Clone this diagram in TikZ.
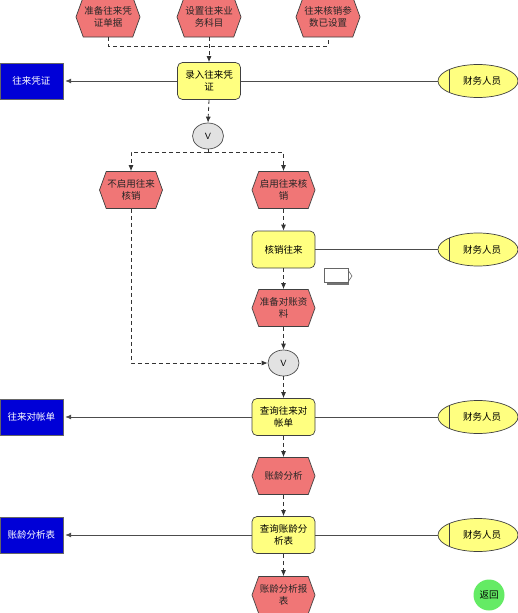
\documentclass[tikz,border=0pt]{standalone}
\usepackage{fontspec}
\newfontfamily\cjk{Noto Sans CJK SC}
\usetikzlibrary{shapes.symbols,shapes.geometric,arrows.meta}
\definecolor{evred}{RGB}{240,118,118}
\definecolor{fnyel}{RGB}{255,255,128}
\definecolor{orblue}{RGB}{0,0,215}
\definecolor{xgray}{RGB}{226,226,226}
\definecolor{retgreen}{RGB}{100,235,100}
\begin{document}
\begin{tikzpicture}[x=1pt,y=-1pt,
  txt/.style={font=\cjk\fontsize{9.5}{12}\selectfont, align=center},
  ev/.style={txt, shape=signal, signal to=west and east, signal pointer angle=140,
    draw=black!75, line width=0.7pt, fill=evred, minimum width=63pt, minimum height=37pt, inner sep=1pt, text=black!85},
  fn/.style={txt, rectangle, rounded corners=5pt, draw=black!75, line width=0.7pt, fill=fnyel,
    minimum width=63pt, minimum height=37pt, inner sep=1pt},
  org/.style={txt, rectangle, draw=black!60, fill=orblue, text=white, minimum width=63pt, minimum height=36pt, inner sep=1pt},
  actor/.style={txt, ellipse, draw=black!75, line width=0.7pt, fill=fnyel, minimum width=80pt, minimum height=33pt, inner sep=0pt,
    path picture={\draw[black!75, line width=0.8pt] ([xshift=11pt]path picture bounding box.south west) -- ([xshift=11pt]path picture bounding box.north west);}},
  xorc/.style={ellipse, draw=black!70, line width=0.7pt, fill=xgray, minimum width=31pt, minimum height=26pt, inner sep=0pt, font=\sffamily\small},
  ret/.style={txt, circle, fill=retgreen, minimum size=31pt, inner sep=0pt},
  dl/.style={dashed, dash pattern=on 4pt off 3pt, black!80, line width=0.8pt},
  dla/.style={dl, -{Latex[length=6pt,width=5pt]}},
  ln/.style={black!70, line width=0.8pt},
  lna/.style={ln, -{Latex[length=6pt,width=5pt]}, shorten >=2pt}
]
\useasboundingbox (0,0) rectangle (518,613);

\node[ev, minimum height=40pt] (e1) at (108,17) {准备往来凭\\证单据};
\node[ev, minimum height=40pt] (e2) at (209,17) {设置往来业\\务科目};
\node[ev, minimum height=40pt] (e3) at (328,17) {往来核销参\\数已设置};
\node[fn] (f1) at (209,81) {录入往来凭\\证};
\node[org] (o1) at (31.5,81) {往来凭证};
\node[actor] (a1) at (478,81) {\hspace*{8pt}财务人员};
\node[xorc] (x1) at (208,136) {V};
\node[ev] (e4) at (131,190) {不启用往来\\核销};
\node[ev] (e5) at (283.5,190) {启用往来核\\销};
\node[fn] (f2) at (283.5,249.5) {核销往来};
\node[actor] (a2) at (478,249.5) {\hspace*{8pt}财务人员};
\node[ev] (e6) at (283.5,308) {准备对账资\\料};
\node[xorc] (x2) at (283.5,363) {V};
\node[fn] (f3) at (283.5,417) {查询往来对\\帐单};
\node[org] (o2) at (31.5,417) {往来对帐单};
\node[actor] (a3) at (478,417) {\hspace*{8pt}财务人员};
\node[ev] (e7) at (283.5,476) {账龄分析};
\node[fn] (f4) at (283.5,535) {查询账龄分\\析表};
\node[org] (o3) at (31.5,535) {账龄分析表};
\node[actor] (a4) at (478,535) {\hspace*{8pt}财务人员};
\node[ev] (e8) at (283.5,595) {账龄分析报\\表};
\node[ret] (r) at (489,595) {返回};

% document icon
\fill[black!55] (327,282) rectangle (349,285);
\draw[black!60, fill=white, line width=0.6pt] (324,268) -- (348,268) -- (348,282) -- (324,282) -- cycle;
\draw[black!60, line width=0.6pt] (348,270) -- (352,276) -- (348,282);

% connectors
\coordinate (j1) at (209,46);
\draw[dl] (e1.south) |- (j1) -| (e3.south);
\draw[dla] (e2.south) -- (f1.north);
\draw[lna] (f1.west) -- (o1.east);
\draw[ln] (f1.east) -- (a1.west);
\draw[dla] (f1.south) -- (x1.north);
\coordinate (j2) at (208,152);
\draw[dl] (x1.south) -- (j2);
\draw[dla] (j2) -| (e4.north);
\draw[dla] (j2) -| (e5.north);
\draw[dla] (e5.south) -- (f2.north);
\draw[ln] (f2.east) -- (a2.west);
\draw[dla] (f2.south) -- (e6.north);
\draw[dla] (e6.south) -- (x2.north);
\draw[dla] (e4.south) |- (x2.west);
\draw[dla] (x2.south) -- (f3.north);
\draw[lna] (f3.west) -- (o2.east);
\draw[ln] (f3.east) -- (a3.west);
\draw[dla] (f3.south) -- (e7.north);
\draw[dla] (e7.south) -- (f4.north);
\draw[lna] (f4.west) -- (o3.east);
\draw[ln] (f4.east) -- (a4.west);
\draw[dla] (f4.south) -- (e8.north);
\end{tikzpicture}
\end{document}
